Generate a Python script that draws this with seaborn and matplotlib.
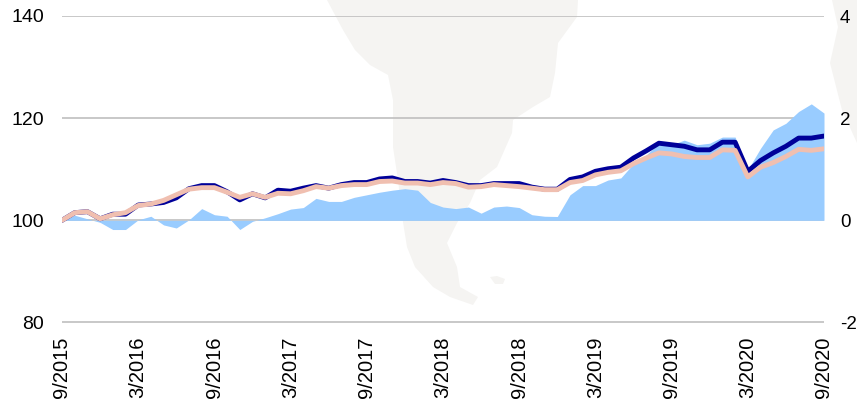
import numpy as np
import pandas as pd
from matplotlib import pyplot as plt
from matplotlib.patches import Polygon
import seaborn as sns

# monthly values 9/2015 - 9/2020
dark_line = [100, 101.5, 101.7, 100.3, 101.2, 101.2, 103, 103.2, 103.5, 104.4,
             106.2, 106.8, 106.8, 105.6, 104, 105.2, 104.4, 105.9, 105.7, 106.3,
             106.8, 106.3, 107, 107.4, 107.4, 108.1, 108.3, 107.6, 107.6, 107.3,
             107.8, 107.4, 106.8, 106.8, 107.2, 107.2, 107.2, 106.5, 106.1, 106.1,
             108, 108.5, 109.6, 110.1, 110.4, 112.2, 113.6, 115.1, 114.8, 114.5,
             113.8, 113.8, 115.3, 115.3, 109.6, 111.7, 113.2, 114.5, 116.1, 116.1, 116.5]
pink_line = [100, 101.5, 101.7, 100.3, 101.1, 101.5, 102.9, 103.2, 103.9, 105,
             106.1, 106.4, 106.4, 105.5, 104.5, 105.2, 104.5, 105.3, 105.2, 105.8,
             106.6, 106.3, 106.8, 107, 107, 107.6, 107.7, 107.3, 107.3, 107,
             107.4, 107.2, 106.5, 106.6, 107, 106.8, 106.6, 106.3, 106, 106,
             107.4, 107.8, 108.9, 109.4, 109.7, 111.1, 112.2, 113.2, 113, 112.5,
             112.3, 112.3, 113.8, 113.7, 108.5, 110.4, 111.3, 112.5, 113.9, 113.7, 114]
spread = [0, 0.1, 0.03, -0.04, -0.18, -0.18, 0.01, 0.08, -0.09, -0.15,
          0.01, 0.23, 0.11, 0.08, -0.18, -0.02, 0.05, 0.13, 0.22, 0.25,
          0.43, 0.37, 0.37, 0.45, 0.5, 0.55, 0.59, 0.62, 0.59, 0.35,
          0.26, 0.23, 0.26, 0.14, 0.26, 0.28, 0.25, 0.11, 0.08, 0.075,
          0.5, 0.68, 0.68, 0.79, 0.83, 1.11, 1.28, 1.51, 1.48, 1.57,
          1.48, 1.51, 1.63, 1.63, 0.99, 1.41, 1.77, 1.9, 2.13, 2.28, 2.1]
tick_labels = ['9/2015', '3/2016', '9/2016', '3/2017', '9/2017', '3/2018',
               '9/2018', '3/2019', '9/2019', '3/2020', '9/2020']
left_ticks = [80, 100, 120, 140]
right_ticks = [-2, 0, 2, 4]
right_labels = ['-2', '0', '2', '4']

# background map outlines, in picture pixels
map_x = [327, 343, 355, 370, 388, 393, 393, 398, 403, 407, 415, 433, 450, 473, 478,
         460, 457, 447, 457, 470, 480, 497, 512, 513, 533, 550, 555, 558, 577, 578]
map_y = [0, 30, 50, 65, 75, 100, 147, 180, 222, 247, 267, 287, 297, 305, 297,
         287, 267, 243, 223, 203, 180, 167, 133, 120, 107, 97, 73, 43, 17, 0]
island_x = [490, 497, 505, 503, 495]
island_y = [277, 276, 279, 284, 284]
africa_x = [832, 838, 830, 842, 857, 857]
africa_y = [0, 27, 63, 110, 143, 0]

sns.set_theme(style='white')
plt.rcParams['font.family'] = ['Liberation Sans', 'DejaVu Sans']

df = pd.DataFrame({'month': np.arange(len(dark_line)), 'dark': dark_line,
                   'pink': pink_line, 'spread': spread})

fig = plt.figure(figsize=(8.57, 4.0), dpi=100)
W, H = 857, 400

for xs, ys in [(map_x, map_y), (island_x, island_y), (africa_x, africa_y)]:
    pts = np.column_stack([np.array(xs) / W, 1 - np.array(ys) / H])
    fig.add_artist(Polygon(pts, closed=True, transform=fig.transFigure,
                           fc='#F5F4F2', ec='none', zorder=0))

ax = fig.add_axes([62 / W, 1 - 322.5 / H, 762 / W, 306.5 / H])
ax.patch.set_alpha(0)
ax.set_zorder(1)
ax2 = ax.twinx()
ax2.patch.set_alpha(0)

ax.set_xlim(0, 60)
ax.set_ylim(80, 140)
ax2.set_ylim(-2, 4)

ax.yaxis.grid(True, color='#BFBFBF', lw=1.2)
ax.set_axisbelow(True)

ax2.fill_between(df['month'], 0, df['spread'], color='#99CCFF', lw=0)
ax2.set_zorder(2)
# lines live on the left scale but have to sit over the area
ax3 = ax.twinx()
ax3.set_ylim(80, 140)
ax3.patch.set_alpha(0)
ax3.set_zorder(3)
ax3.axis('off')
sns.lineplot(data=df, x='month', y='dark', ax=ax3, color='#000099', lw=3.5, legend=False)
sns.lineplot(data=df, x='month', y='pink', ax=ax3, color='#F0BFB0', lw=3.5, legend=False)
ax3.set_xlim(0, 60)

ax.set_xticks(np.arange(0, 61, 6))
ax.set_xticklabels(tick_labels, rotation=90, fontsize=14.5, color='black')
ax.set_yticks(left_ticks)
ax.tick_params(axis='y', labelsize=14, labelcolor='black', length=0, pad=13)
ax.tick_params(axis='x', length=0, pad=10)
ax.set_xlabel('')
ax.set_ylabel('')
ax2.set_yticks(right_ticks)
ax2.set_yticklabels(right_labels)
ax2.tick_params(axis='y', labelsize=13.5, labelcolor='black', length=0, pad=11.5)
ax2.set_ylabel('')
for a in (ax, ax2):
    for s in a.spines.values():
        s.set_visible(False)

fig.savefig('out.png', dpi=100)
